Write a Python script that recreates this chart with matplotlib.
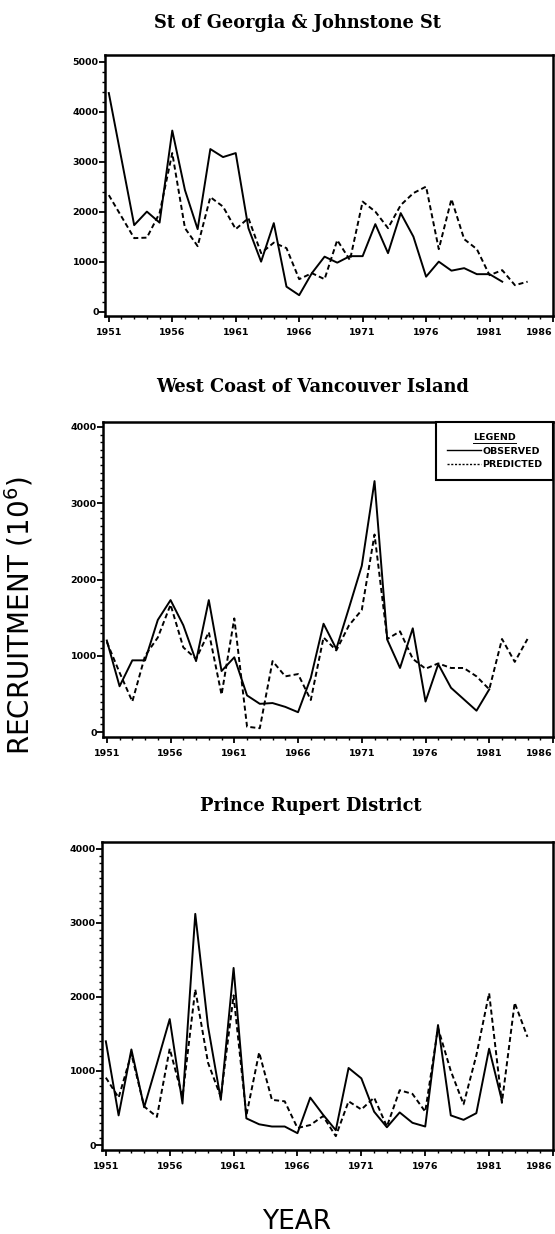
import matplotlib.pyplot as plt
from matplotlib.ticker import MultipleLocator
from matplotlib.lines import Line2D

# Values (recruitment, 10^6 fish)
years_obs1 = list(range(1951, 1983))
obs1 = [4370, 3050, 1730, 2000, 1780, 3620, 2430, 1650, 3250, 3090, 3170, 1670,
        1000, 1770, 500, 330, 770, 1100, 980, 1110, 1110, 1750, 1170, 1970,
        1500, 700, 1000, 820, 870, 750, 750, 600]
years_pred1 = list(range(1951, 1985))
pred1 = [2330, 1900, 1470, 1480, 1970, 3170, 1670, 1310, 2290, 2100, 1650, 1870,
         1170, 1380, 1270, 650, 770, 650, 1430, 1030, 2200, 2000, 1670, 2130,
         2370, 2500, 1250, 2250, 1450, 1250, 730, 830, 530, 600]

years_obs2 = list(range(1951, 1982))
obs2 = [1200, 600, 940, 940, 1470, 1730, 1400, 930, 1730, 800, 980, 480,
        370, 380, 330, 260, 710, 1420, 1090, 1630, 2180, 3290, 1210, 840,
        1360, 400, 890, 580, 430, 280, 560]
years_pred2 = list(range(1951, 1985))
pred2 = [1180, 780, 400, 1000, 1240, 1670, 1110, 960, 1310, 490, 1490, 70,
         50, 930, 730, 760, 420, 1240, 1070, 1400, 1600, 2590, 1220, 1320,
         960, 830, 900, 840, 840, 730, 560, 1220, 920, 1220]

years_obs3 = list(range(1951, 1983))
obs3 = [1400, 400, 1290, 510, 1100, 1700, 560, 3120, 1600, 610, 2390, 360,
        280, 250, 250, 160, 640, 410, 200, 1040, 900, 450, 240, 440,
        300, 250, 1620, 400, 340, 430, 1300, 600]
years_pred3 = list(range(1951, 1985))
pred3 = [910, 640, 1230, 520, 380, 1300, 650, 2100, 1110, 650, 2020, 400,
         1250, 610, 590, 230, 270, 390, 120, 590, 480, 640, 250, 740,
         690, 450, 1580, 1000, 550, 1210, 2050, 570, 1920, 1460]

titles = ["St of Georgia & Johnstone St",
          "West Coast of Vancouver Island",
          "Prince Rupert District"]
year_ticks = [1951, 1956, 1961, 1966, 1971, 1976, 1981, 1986]

W, H = 555, 1234
fig = plt.figure(figsize=(W / 100, H / 100), dpi=100)

def px_axes(left, top, right, bottom):
    """Add axes given pixel edges (top-left origin)."""
    return fig.add_axes([left / W, 1 - bottom / H, (right - left) / W, (bottom - top) / H])

panels = [
    # axes box in px, ylim, y max tick, minor step, title position
    dict(box=(105, 55, 553, 316), ylim=(-86, 5130), ymax=5000, minor=200,
         title_xy=(297, 23), obs=(years_obs1, obs1), pred=(years_pred1, pred1)),
    dict(box=(103, 422, 553, 737), ylim=(-65, 4065), ymax=4000, minor=100,
         title_xy=(313, 387), obs=(years_obs2, obs2), pred=(years_pred2, pred2)),
    dict(box=(102, 842, 553, 1150), ylim=(-67, 4090), ymax=4000, minor=100,
         title_xy=(311, 806), obs=(years_obs3, obs3), pred=(years_pred3, pred3)),
]

tick_font = dict(fontsize=6.8, fontweight='bold')
legend = None

for i, p in enumerate(panels):
    ax = px_axes(*p['box'])
    ax.plot(*p['obs'], color='black', linewidth=1.4)
    ax.plot(*p['pred'], color='black', linewidth=1.4, dashes=(2.6, 1.6))

    ax.set_xlim(1950.7, 1986)
    ax.set_ylim(*p['ylim'])
    ax.set_xticks(year_ticks)
    ax.set_xticklabels([str(y) for y in year_ticks], **tick_font)
    # last year label sits flush with the right edge, as in the original
    ax.get_xticklabels()[-1].set_horizontalalignment('right')
    yt = list(range(0, p['ymax'] + 1, 1000))
    ax.set_yticks(yt)
    ax.set_yticklabels([str(v) for v in yt], **tick_font)
    ax.xaxis.set_minor_locator(MultipleLocator(1))
    ax.yaxis.set_minor_locator(MultipleLocator(p['minor']))
    ax.tick_params(which='major', direction='out', length=4, width=1.3, pad=4.5)
    ax.tick_params(axis='y', which='major', pad=0.5)
    ax.tick_params(which='minor', direction='out', length=2, width=1.0)
    ax.tick_params(top=False, right=False)
    for s in ax.spines.values():
        s.set_linewidth(1.8)

    fig.text(p['title_xy'][0] / W, 1 - p['title_xy'][1] / H, titles[i],
             ha='center', va='center', family='DejaVu Serif', fontsize=12.8,
             fontweight='bold')

    if i == 1:
        handles = [Line2D([], [], color='black', linewidth=1.0),
                   Line2D([], [], color='black', linewidth=1.0, dashes=(1.5, 1.2))]
        legend = ax.legend(handles, ['OBSERVED', 'PREDICTED'], title='LEGEND',
                           loc='upper right', borderaxespad=0, fancybox=False,
                           edgecolor='black', framealpha=1, handlelength=3.6,
                           handletextpad=0.15, borderpad=1.15, labelspacing=0.5,
                           prop=dict(size=6.8, weight='bold'),
                           title_fontproperties=dict(size=6.8, weight='bold'))
        legend.get_frame().set_linewidth(1.5)

fig.text(19 / W, 1 - 616 / H, "RECRUITMENT (10$^{6}$)", rotation=90,
         ha='center', va='center', family='DejaVu Sans', fontsize=20)
fig.text(297 / W, 1 - 1222 / H, "YEAR", ha='center', va='center',
         family='DejaVu Sans', fontsize=19)

# underline the legend title
fig.canvas.draw()
bb = legend.get_title().get_window_extent()
fig.add_artist(Line2D([bb.x0 / W, bb.x1 / W], [(bb.y0 - 1) / H, (bb.y0 - 1) / H],
                      color='black', linewidth=0.7, transform=fig.transFigure))

fig.savefig("out.png", dpi=100)
